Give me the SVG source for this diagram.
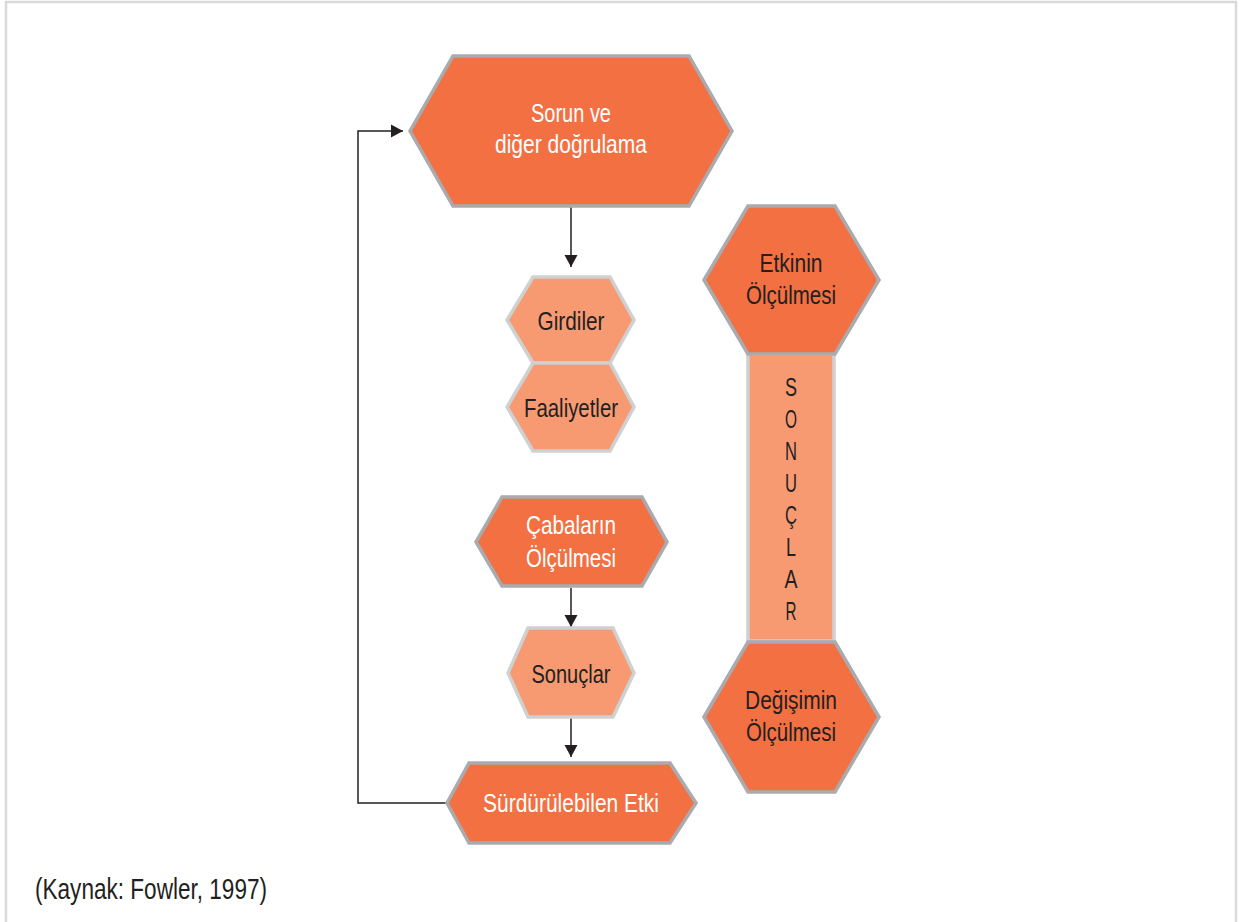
<svg xmlns="http://www.w3.org/2000/svg" width="1247" height="922" viewBox="0 0 1247 922">
<defs>
<marker id="arr" markerUnits="userSpaceOnUse" markerWidth="14" markerHeight="14" refX="12" refY="7" orient="auto">
<path d="M0,0.5 L12,7 L0,13.5 z" fill="#231f20"/>
</marker>
<style>
.dark{fill:#f27042;stroke:#a9abae;stroke-width:3.5;stroke-linejoin:miter}
.light{fill:#f79a72;stroke:#cfd0d1;stroke-width:3.5;stroke-linejoin:miter}
.t{font-family:"Liberation Sans",Arial,sans-serif;font-size:26px;text-anchor:middle}
.w{fill:#ffffff}
.k{fill:#231f20}
.conn{fill:none;stroke:#231f20;stroke-width:1.5}
</style>
</defs>
<rect width="1247" height="922" fill="#ffffff"/>
<path d="M6,922 V2 H1236 V922" fill="none" stroke="#d9d9d9" stroke-width="2.5"/>

<g id="connectors">
<line class="conn" x1="571" y1="207" x2="571" y2="267" marker-end="url(#arr)"/>
<line class="conn" x1="571" y1="588" x2="571" y2="627" marker-end="url(#arr)"/>
<line class="conn" x1="571" y1="718" x2="571" y2="757" marker-end="url(#arr)"/>
<polyline class="conn" points="446,803 358,803 358,131 403,131" marker-end="url(#arr)"/>
</g>

<g id="node-sorun">
<polygon class="dark" points="410,131 453,56 689,56 732,131 689,206 453,206"/>
<text class="t w" x="571" y="122" textLength="80" lengthAdjust="spacingAndGlyphs">Sorun ve</text>
<text class="t w" x="571" y="153" textLength="152" lengthAdjust="spacingAndGlyphs">diğer doğrulama</text>
</g>

<g id="node-girdiler">
<polygon class="light" points="507,320 533,277 610,277 634,320 610,363 533,363"/>
<text class="t k" x="571" y="330" textLength="67" lengthAdjust="spacingAndGlyphs">Girdiler</text>
</g>

<g id="node-faaliyetler">
<polygon class="light" points="507,407 533,363 610,363 634,407 610,451 533,451"/>
<text class="t k" x="571" y="417" textLength="94" lengthAdjust="spacingAndGlyphs">Faaliyetler</text>
</g>

<g id="node-cabalarin">
<polygon class="dark" points="476,542 502,497 642,497 667,542 642,586 502,586"/>
<text class="t w" x="571" y="534" textLength="90" lengthAdjust="spacingAndGlyphs">Çabaların</text>
<text class="t w" x="571" y="567" textLength="90" lengthAdjust="spacingAndGlyphs">Ölçülmesi</text>
</g>

<g id="node-sonuclar">
<polygon class="light" points="508,673 528,628 613,628 634,673 613,717 528,717"/>
<text class="t k" x="571" y="683" textLength="79" lengthAdjust="spacingAndGlyphs">Sonuçlar</text>
</g>

<g id="node-surdurulebilen">
<polygon class="dark" points="447,803 469,763 670,763 696,803 670,843 469,843"/>
<text class="t w" x="571" y="812" textLength="176" lengthAdjust="spacingAndGlyphs">Sürdürülebilen Etki</text>
</g>

<g id="node-sonuclar-bar">
<rect class="light" x="748" y="354" width="86" height="287"/>
<text class="t k" x="791" y="396" textLength="12" lengthAdjust="spacingAndGlyphs">S</text>
<text class="t k" x="791" y="428" textLength="12" lengthAdjust="spacingAndGlyphs">O</text>
<text class="t k" x="791" y="460" textLength="12" lengthAdjust="spacingAndGlyphs">N</text>
<text class="t k" x="791" y="492" textLength="12" lengthAdjust="spacingAndGlyphs">U</text>
<text class="t k" x="791" y="524" textLength="12" lengthAdjust="spacingAndGlyphs">Ç</text>
<text class="t k" x="791" y="556" textLength="10" lengthAdjust="spacingAndGlyphs">L</text>
<text class="t k" x="791" y="588" textLength="13" lengthAdjust="spacingAndGlyphs">A</text>
<text class="t k" x="791" y="620" textLength="11" lengthAdjust="spacingAndGlyphs">R</text>
</g>

<g id="node-etkinin">
<polygon class="dark" points="704,280 748,206 835,206 879,280 835,354 748,354"/>
<text class="t k" x="791" y="272" textLength="63" lengthAdjust="spacingAndGlyphs">Etkinin</text>
<text class="t k" x="791" y="304" textLength="90" lengthAdjust="spacingAndGlyphs">Ölçülmesi</text>
</g>

<g id="node-degisimin">
<polygon class="dark" points="704,717 748,642 835,642 879,717 835,792 748,792"/>
<text class="t k" x="791" y="709" textLength="92" lengthAdjust="spacingAndGlyphs">Değişimin</text>
<text class="t k" x="791" y="741" textLength="90" lengthAdjust="spacingAndGlyphs">Ölçülmesi</text>
</g>

<text class="k" x="35" y="899" font-family="Liberation Sans, Arial, sans-serif" font-size="29" textLength="232" lengthAdjust="spacingAndGlyphs">(Kaynak: Fowler, 1997)</text>
</svg>
